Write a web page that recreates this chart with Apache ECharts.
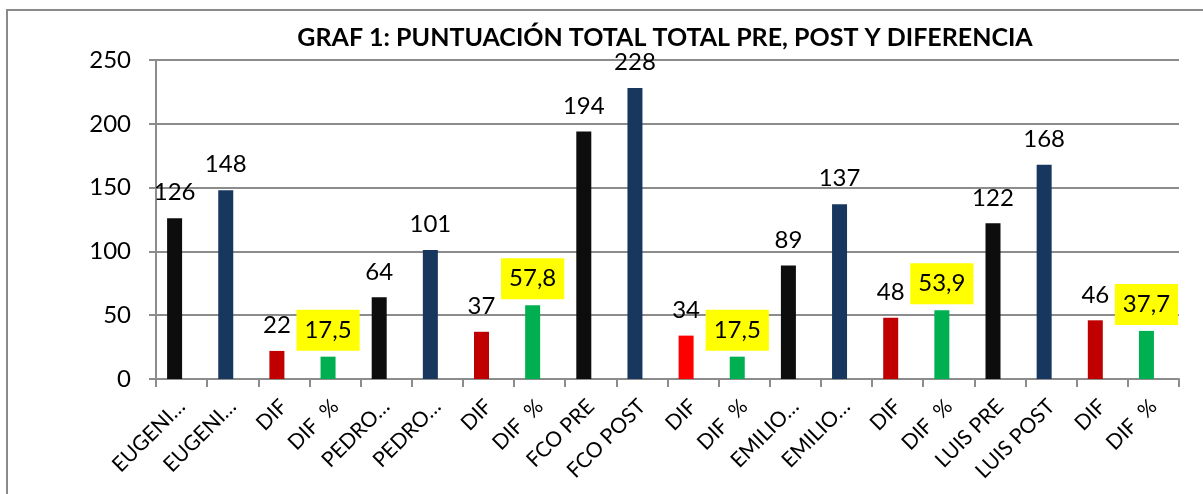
<!DOCTYPE html>
<html>
<head>
<meta charset="utf-8">
<script src="https://cdn.jsdelivr.net/npm/echarts@6/dist/echarts.min.js"></script>
<style>
  html, body { margin: 0; padding: 0; background: #fff; }
  #chart { width: 1203px; height: 494px; }
</style>
</head>
<body>
<div id="chart"></div>
<script>
// categorías tal como aparecen en el eje
const categories = [
  'EUGENI…', 'EUGENI…', 'DIF', 'DIF  %',
  'PEDRO…', 'PEDRO…', 'DIF', 'DIF  %',
  'FCO PRE', 'FCO POST', 'DIF', 'DIF  %',
  'EMILIO…', 'EMILIO…', 'DIF', 'DIF  %',
  'LUIS PRE', 'LUIS POST', 'DIF', 'DIF  %'
];
const values = [
  126, 148, 22, 17.5,
  64, 101, 37, 57.8,
  194, 228, 34, 17.5,
  89, 137, 48, 53.9,
  122, 168, 46, 37.7
];
// tipo de cada barra: pre, post, dif, pct
const kinds = [
  'pre', 'post', 'dif', 'pct',
  'pre', 'post', 'dif', 'pct',
  'pre', 'post', 'dif2', 'pct',
  'pre', 'post', 'dif', 'pct',
  'pre', 'post', 'dif', 'pct'
];
const yTicks = [0, 50, 100, 150, 200, 250];

const kindColors = {
  pre: '#0d0d0d',
  post: '#17375e',
  dif: '#c00000',
  dif2: '#ff0000',
  pct: '#00b050'
};

const FONT = 'Lato, "Open Sans", sans-serif';

const fmt = v => String(v).replace('.', ',');

const chart = echarts.init(document.getElementById('chart'));

const data = values.map((v, i) => {
  const isPct = kinds[i] === 'pct';
  return {
    value: v,
    itemStyle: { color: kindColors[kinds[i]] },
    label: isPct
      ? { backgroundColor: '#ffff00', padding: [7, 8], distance: 6 }
      : { distance: 12 }
  };
});

const option = {
  animation: false,
  title: {
    text: 'GRAF 1: PUNTUACIÓN TOTAL TOTAL PRE, POST Y DIFERENCIA',
    left: 660,
    top: 20,
    textAlign: 'center',
    textStyle: {
      fontFamily: FONT,
      fontSize: 25,
      fontWeight: 'bold',
      color: '#000'
    }
  },
  graphic: [
    {
      type: 'rect',
      shape: { x: 7, y: 10, width: 1300, height: 600 },
      style: { fill: null, stroke: '#8a8a8a', lineWidth: 2 },
      silent: true
    }
  ],
  grid: {
    left: 156,
    right: 24,
    top: 60,
    bottom: 115,
    containLabel: false
  },
  xAxis: {
    type: 'category',
    data: categories,
    axisLine: { lineStyle: { color: '#8c8c8c', width: 2 } },
    axisTick: { show: true, length: 8, lineStyle: { color: '#8c8c8c', width: 2 } },
    axisLabel: {
      interval: 0,
      rotate: 45,
      margin: 24,
      color: '#000',
      fontFamily: FONT,
      fontSize: 21
    }
  },
  yAxis: {
    type: 'value',
    min: yTicks[0],
    max: yTicks[yTicks.length - 1],
    interval: 50,
    axisLine: { show: true, lineStyle: { color: '#8c8c8c', width: 2 } },
    axisTick: { show: true, length: 7, lineStyle: { color: '#8c8c8c', width: 2 } },
    axisLabel: {
      margin: 25,
      color: '#000',
      fontFamily: FONT,
      fontSize: 24
    },
    splitLine: { lineStyle: { color: '#8c8c8c', width: 2 } }
  },
  series: [
    {
      type: 'bar',
      data: data,
      barWidth: 15,
      barGap: '-7%',
      label: {
        show: true,
        position: 'top',
        color: '#000',
        fontFamily: FONT,
        fontSize: 24,
        lineHeight: 27,
        formatter: p => fmt(p.value)
      }
    },
    {
      // serie vacía: desplaza las barras a la izquierda como en el original
      type: 'bar',
      data: values.map(() => null),
      barWidth: 15,
      barGap: '-7%',
      silent: true
    }
  ]
};

chart.setOption(option);
</script>
</body>
</html>
